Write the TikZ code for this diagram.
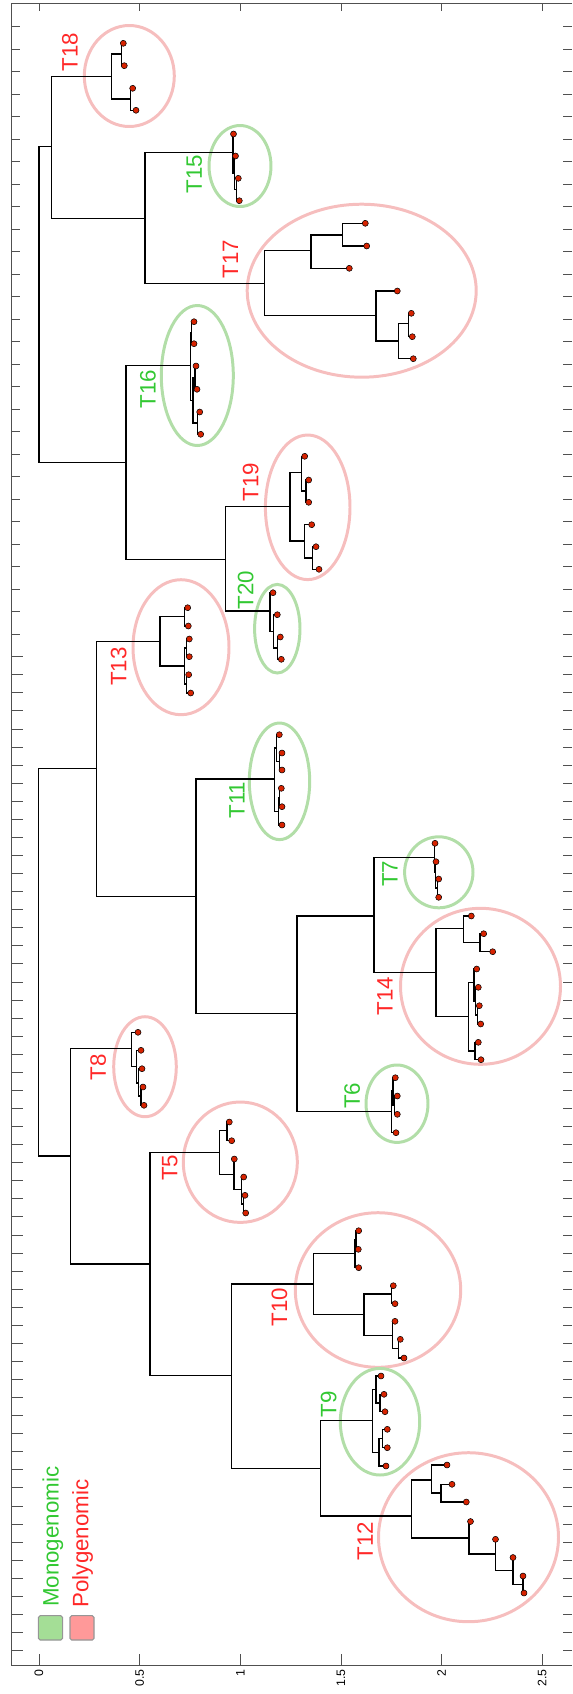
\documentclass[tikz,border=0pt]{standalone}
\usepackage{fontspec}
\setmainfont{Liberation Sans}
\definecolor{polyred}{RGB}{255,40,40}
\definecolor{monogreen}{RGB}{50,200,50}
\definecolor{polyring}{RGB}{246,190,190}
\definecolor{monoring}{RGB}{178,222,168}
\definecolor{leafred}{RGB}{215,35,0}
\definecolor{monobox}{RGB}{164,222,150}
\definecolor{polybox}{RGB}{255,153,153}
\definecolor{axisgray}{RGB}{80,80,80}
\definecolor{boxgray}{RGB}{150,150,150}
\begin{document}
\begin{tikzpicture}[x=0.02cm, y=-0.02cm,
  link/.style={line width=0.85pt, black},
  leaf/.style={circle, fill=leafred, draw=black, line width=0.3pt, inner sep=0pt, minimum size=0.12cm},
  axis/.style={line width=0.5pt, draw=axisgray},
  poly/.style={draw=polyring, line width=1.7pt},
  mono/.style={draw=monoring, line width=1.7pt},
  tlab/.style={rotate=90, inner sep=0pt, font=\fontsize{12.7}{14}\selectfont},
  ticklab/.style={rotate=90, anchor=east, inner sep=0pt, font=\fontsize{7}{8}\selectfont}]
\useasboundingbox (0,0) rectangle (572,1694);

\coordinate (l18a) at (123.3,43.3); \coordinate (l18b) at (124.3,65.7);
\coordinate (l18c) at (132.7,88.3); \coordinate (l18d) at (136,110.3);
\coordinate (l15a) at (233.5,134); \coordinate (l15b) at (235.5,156);
\coordinate (l15c) at (238.3,178.3); \coordinate (l15d) at (239.3,200.7);
\coordinate (l17a) at (365.3,223.3); \coordinate (l17b) at (366.7,246);
\coordinate (l17c) at (349.3,268.3); \coordinate (l17d) at (397.3,291);
\coordinate (l17e) at (411.3,313.3); \coordinate (l17f) at (412.3,336.7);
\coordinate (l17g) at (413.3,358.7);
\coordinate (l16a) at (194,321.7); \coordinate (l16b) at (194,343.7);
\coordinate (l16c) at (196,366); \coordinate (l16d) at (197,389.3);
\coordinate (l16e) at (199.7,412); \coordinate (l16f) at (200.7,434.3);
\coordinate (l19a) at (304.7,456.3); \coordinate (l19b) at (308.7,480);
\coordinate (l19c) at (308.7,502.3); \coordinate (l19d) at (311.7,524.7);
\coordinate (l19e) at (316,546.7); \coordinate (l19f) at (319,569.3);
\coordinate (l20a) at (273,592.7); \coordinate (l20b) at (277.3,614.7);
\coordinate (l20c) at (280.3,637); \coordinate (l20d) at (281.3,659.3);
\coordinate (l13a) at (187.7,607.7); \coordinate (l13b) at (188.3,626);
\coordinate (l13c) at (189.3,639); \coordinate (l13d) at (189.3,656.7);
\coordinate (l13e) at (188.7,674.7); \coordinate (l13f) at (190.7,693);
\coordinate (l11a) at (279.3,734.7); \coordinate (l11b) at (282,753);
\coordinate (l11c) at (282,770); \coordinate (l11d) at (281.3,788.3);
\coordinate (l11e) at (282,806.7); \coordinate (l11f) at (282,825);
\coordinate (l7a) at (435,843.3); \coordinate (l7b) at (436,861.7);
\coordinate (l7c) at (438.7,879); \coordinate (l7d) at (438.7,897.3);
\coordinate (l14a) at (471.3,916); \coordinate (l14b) at (483.7,933.7);
\coordinate (l14c) at (492.7,951.7); \coordinate (l14d) at (476.7,969);
\coordinate (l14e) at (478.3,987.3); \coordinate (l14f) at (479.3,1005.7);
\coordinate (l14g) at (480.7,1024); \coordinate (l14h) at (478.3,1042.3);
\coordinate (l14i) at (481,1059.7);
\coordinate (l6a) at (395.3,1077.7); \coordinate (l6b) at (397.3,1096);
\coordinate (l6c) at (397.3,1114.3); \coordinate (l6d) at (396,1132.7);
\coordinate (l8a) at (138,1032.3); \coordinate (l8b) at (141,1050.3);
\coordinate (l8c) at (142,1068.7); \coordinate (l8d) at (143,1087);
\coordinate (l8e) at (144,1105.3);
\coordinate (l5a) at (229.3,1122); \coordinate (l5b) at (231.7,1140.7);
\coordinate (l5c) at (234.3,1159); \coordinate (l5d) at (243.7,1177);
\coordinate (l5e) at (245,1195.3); \coordinate (l5f) at (245.7,1213);
\coordinate (l10a) at (358.7,1230.7); \coordinate (l10b) at (358.3,1249.3);
\coordinate (l10c) at (358.7,1267.7); \coordinate (l10d) at (393.3,1285.7);
\coordinate (l10e) at (395,1303.7); \coordinate (l10f) at (395,1321.3);
\coordinate (l10g) at (400.3,1339.3); \coordinate (l10h) at (404,1358);
\coordinate (l9a) at (381,1376); \coordinate (l9b) at (384,1394.3);
\coordinate (l9c) at (385,1411.7); \coordinate (l9d) at (387.3,1429.3);
\coordinate (l9e) at (387.3,1447.7); \coordinate (l9f) at (386,1466);
\coordinate (l12a) at (447,1465); \coordinate (l12b) at (452,1484.3);
\coordinate (l12c) at (466.3,1502); \coordinate (l12d) at (470.5,1521.5);
\coordinate (l12e) at (495.5,1539.3); \coordinate (l12f) at (513,1557.5);
\coordinate (l12g) at (523,1576); \coordinate (l12h) at (524,1593);

\coordinate (n18a) at (121.7,54); \coordinate (n18b) at (130.3,99);
\coordinate (n18) at (111.7,76.3);
\coordinate (n15b) at (236.5,189.5); \coordinate (n15a) at (234.5,172.8);
\coordinate (n15) at (233,152.3);
\coordinate (n17c) at (342.7,235); \coordinate (n17a) at (311,250.7);
\coordinate (n17e) at (408.3,323.3); \coordinate (n17d) at (398.7,341);
\coordinate (n17b) at (376,315.7); \coordinate (n17) at (264.3,283.7);
\coordinate (n16a) at (191.5,332.7); \coordinate (n16c) at (195,377.7);
\coordinate (n16d) at (197.5,423.2); \coordinate (n16b) at (193,400.4);
\coordinate (n16) at (190.7,365.7);
\coordinate (n19c) at (306,491.2); \coordinate (n19a) at (301.7,472.7);
\coordinate (n19d) at (312.3,558); \coordinate (n19b) at (304.3,541);
\coordinate (n19) at (290,506.7);
\coordinate (n20b) at (277.3,648.2); \coordinate (n20a) at (273.3,631.5);
\coordinate (n20) at (270,611);
\coordinate (na) at (145,218.3); \coordinate (nb) at (51.7,146.7);
\coordinate (nc) at (225.7,559.3); \coordinate (nd) at (126,462.7);
\coordinate (top) at (39,304.7);
\coordinate (n13a) at (184.3,616.7); \coordinate (n13c) at (186.7,647.8);
\coordinate (n13d) at (186.3,683.8); \coordinate (n13b) at (184.3,666);
\coordinate (n13) at (160,641.3);
\coordinate (n11c) at (279.3,761.5); \coordinate (n11a) at (276.7,748.1);
\coordinate (n11d) at (279.7,797.5); \coordinate (n11b) at (278.3,811.3);
\coordinate (n11) at (274.3,779);
\coordinate (n7b) at (437.5,888.2); \coordinate (n7a) at (435.5,872);
\coordinate (n7) at (434.3,857.7);
\coordinate (n14c) at (480,942.7); \coordinate (n14a) at (463.3,928.3);
\coordinate (n14g) at (477.7,1014.9); \coordinate (n14f) at (475.7,1001);
\coordinate (n14d) at (474,982.4); \coordinate (n14e) at (475,1051);
\coordinate (n14b) at (468.3,1016.7); \coordinate (n14) at (436,972.7);
\coordinate (n6b) at (394.3,1105.2); \coordinate (n6a) at (393,1090.7);
\coordinate (n6) at (391.7,1111.7);
\coordinate (ne) at (374,916); \coordinate (nf) at (297,1013.3);
\coordinate (ng) at (196,896.7); \coordinate (nh) at (96.7,768.3);
\coordinate (n8c) at (141,1096.2); \coordinate (n8b) at (138.3,1083);
\coordinate (n8a) at (136.7,1066.7); \coordinate (n8) at (131.7,1048.7);
\coordinate (n5a) at (227,1130.7); \coordinate (n5d) at (243.3,1204.2);
\coordinate (n5c) at (241.7,1189.6); \coordinate (n5b) at (234,1174.3);
\coordinate (n5) at (219.3,1152.3);
\coordinate (n10c) at (356,1240); \coordinate (n10a) at (355,1253.3);
\coordinate (n10d) at (391.7,1294); \coordinate (n10f) at (398.3,1348.7);
\coordinate (n10e) at (392.7,1335.3); \coordinate (n10b) at (364,1314.3);
\coordinate (n10) at (313.7,1284);
\coordinate (n9c) at (380,1403); \coordinate (n9a) at (376,1389.3);
\coordinate (n9d) at (382.7,1438.5); \coordinate (n9b) at (379,1452.3);
\coordinate (n9) at (372.7,1420.3);
\coordinate (n12c) at (441,1493.2); \coordinate (n12a) at (431.7,1480);
\coordinate (n12f) at (522.8,1584.5); \coordinate (n12e) at (513,1570.7);
\coordinate (n12d) at (495.4,1554); \coordinate (n12b) at (468.8,1538);
\coordinate (n12) at (411.7,1516);
\coordinate (ni) at (320.3,1468.3); \coordinate (nj) at (231.7,1375.7);
\coordinate (nk) at (150,1264); \coordinate (nl) at (70.7,1156);
\coordinate (bot) at (38.5,962);

\draw[poly] (129.3,76) ellipse [x radius=45, y radius=50.5];
\draw[mono] (240,166) ellipse [x radius=31, y radius=40.5];
\draw[poly] (361.7,290.7) ellipse [x radius=114.5, y radius=86.5];
\draw[mono] (197.3,375.5) ellipse [x radius=36, y radius=70];
\draw[poly] (307.7,507.3) ellipse [x radius=42.3, y radius=72.3];
\draw[mono] (277.3,628.7) ellipse [x radius=22.7, y radius=44.3];
\draw[poly] (181,647.2) ellipse [x radius=48, y radius=67.5];
\draw[mono] (279.5,781.3) ellipse [x radius=30.2, y radius=58.3];
\draw[mono] (438.8,872.3) ellipse [x radius=34.2, y radius=35.5];
\draw[poly] (480.5,986.3) ellipse [x radius=80, y radius=78];
\draw[mono] (397,1103.7) ellipse [x radius=31, y radius=38.7];
\draw[poly] (145,1066.7) ellipse [x radius=31.3, y radius=50];
\draw[poly] (240.3,1162.2) ellipse [x radius=57, y radius=60.2];
\draw[poly] (378,1290) ellipse [x radius=82.7, y radius=77.3];
\draw[mono] (380,1421.7) ellipse [x radius=39.7, y radius=53.3];
\draw[poly] (468.5,1537.2) ellipse [x radius=90, y radius=84.5];

\draw[axis] (572,3.3) -- (11.7,3.3) -- (11.7,1665) -- (572,1665);
\foreach \k in {0,...,27} {
  \draw[axis] (11.7,26.7+22.5*\k) -- ++(8.3,0);
  \draw[axis] (572,26.7+22.5*\k) -- ++(-9.5,0);
}
\foreach \k in {0,...,55} {
  \draw[axis] (11.7,656.7+18.07*\k) -- ++(11.6,0);
  \draw[axis] (572,656.7+18.07*\k) -- ++(-9.5,0);
}
\foreach \v [count=\i] in {0,0.5,1,1.5,2,2.5} {
  \draw[axis] (39+201.3*\v,3.3) -- ++(0,7.4);
  \draw[axis] (39+201.3*\v,1665) -- ++(0,-10.7);
  \node[ticklab] (tick\i) at (39+201.3*\v,1669) {\v};
}

\draw[link] (l18a) -| (n18a) |- (l18b);
\draw[link] (l18c) -| (n18b) |- (l18d);
\draw[link] (n18a) -| (n18) |- (n18b);
\draw[link] (l15c) -| (n15b) |- (l15d);
\draw[link] (l15b) -| (n15a) |- (n15b);
\draw[link] (l15a) -| (n15) |- (n15a);
\draw[link] (l17a) -| (n17c) |- (l17b);
\draw[link] (n17c) -| (n17a) |- (l17c);
\draw[link] (l17e) -| (n17e) |- (l17f);
\draw[link] (n17e) -| (n17d) |- (l17g);
\draw[link] (l17d) -| (n17b) |- (n17d);
\draw[link] (n17a) -| (n17) |- (n17b);
\draw[link] (l16a) -| (n16a) |- (l16b);
\draw[link] (l16c) -| (n16c) |- (l16d);
\draw[link] (l16e) -| (n16d) |- (l16f);
\draw[link] (n16c) -| (n16b) |- (n16d);
\draw[link] (n16a) -| (n16) |- (n16b);
\draw[link] (l19b) -| (n19c) |- (l19c);
\draw[link] (l19a) -| (n19a) |- (n19c);
\draw[link] (l19e) -| (n19d) |- (l19f);
\draw[link] (l19d) -| (n19b) |- (n19d);
\draw[link] (n19a) -| (n19) |- (n19b);
\draw[link] (l20c) -| (n20b) |- (l20d);
\draw[link] (l20b) -| (n20a) |- (n20b);
\draw[link] (l20a) -| (n20) |- (n20a);
\draw[link] (n15) -| (na) |- (n17);
\draw[link] (n18) -| (nb) |- (na);
\draw[link] (n19) -| (nc) |- (n20);
\draw[link] (n16) -| (nd) |- (nc);
\draw[link] (nb) -| (top) |- (nd);
\draw[link] (l13a) -| (n13a) |- (l13b);
\draw[link] (l13c) -| (n13c) |- (l13d);
\draw[link] (l13e) -| (n13d) |- (l13f);
\draw[link] (n13c) -| (n13b) |- (n13d);
\draw[link] (n13a) -| (n13) |- (n13b);
\draw[link] (l11b) -| (n11c) |- (l11c);
\draw[link] (l11a) -| (n11a) |- (n11c);
\draw[link] (l11d) -| (n11d) |- (l11e);
\draw[link] (n11d) -| (n11b) |- (l11f);
\draw[link] (n11a) -| (n11) |- (n11b);
\draw[link] (l7c) -| (n7b) |- (l7d);
\draw[link] (l7b) -| (n7a) |- (n7b);
\draw[link] (l7a) -| (n7) |- (n7a);
\draw[link] (l14b) -| (n14c) |- (l14c);
\draw[link] (l14a) -| (n14a) |- (n14c);
\draw[link] (l14f) -| (n14g) |- (l14g);
\draw[link] (l14e) -| (n14f) |- (n14g);
\draw[link] (l14d) -| (n14d) |- (n14f);
\draw[link] (l14h) -| (n14e) |- (l14i);
\draw[link] (n14d) -| (n14b) |- (n14e);
\draw[link] (n14a) -| (n14) |- (n14b);
\draw[link] (l6b) -| (n6b) |- (l6c);
\draw[link] (l6a) -| (n6a) |- (n6b);
\draw[link] (n6a) -| (n6) |- (l6d);
\draw[link] (n7) -| (ne) |- (n14);
\draw[link] (ne) -| (nf) |- (n6);
\draw[link] (n11) -| (ng) |- (nf);
\draw[link] (n13) -| (nh) |- (ng);
\draw[link] (l8d) -| (n8c) |- (l8e);
\draw[link] (l8c) -| (n8b) |- (n8c);
\draw[link] (l8b) -| (n8a) |- (n8b);
\draw[link] (l8a) -| (n8) |- (n8a);
\draw[link] (l5a) -| (n5a) |- (l5b);
\draw[link] (l5e) -| (n5d) |- (l5f);
\draw[link] (l5d) -| (n5c) |- (n5d);
\draw[link] (l5c) -| (n5b) |- (n5c);
\draw[link] (n5a) -| (n5) |- (n5b);
\draw[link] (l10a) -| (n10c) |- (l10b);
\draw[link] (n10c) -| (n10a) |- (l10c);
\draw[link] (l10d) -| (n10d) |- (l10e);
\draw[link] (l10g) -| (n10f) |- (l10h);
\draw[link] (l10f) -| (n10e) |- (n10f);
\draw[link] (n10d) -| (n10b) |- (n10e);
\draw[link] (n10a) -| (n10) |- (n10b);
\draw[link] (l9b) -| (n9c) |- (l9c);
\draw[link] (l9a) -| (n9a) |- (n9c);
\draw[link] (l9d) -| (n9d) |- (l9e);
\draw[link] (n9d) -| (n9b) |- (l9f);
\draw[link] (n9a) -| (n9) |- (n9b);
\draw[link] (l12b) -| (n12c) |- (l12c);
\draw[link] (l12a) -| (n12a) |- (n12c);
\draw[link] (l12g) -| (n12f) |- (l12h);
\draw[link] (l12f) -| (n12e) |- (n12f);
\draw[link] (l12e) -| (n12d) |- (n12e);
\draw[link] (l12d) -| (n12b) |- (n12d);
\draw[link] (n12a) -| (n12) |- (n12b);
\draw[link] (n9) -| (ni) |- (n12);
\draw[link] (n10) -| (nj) |- (ni);
\draw[link] (n5) -| (nk) |- (nj);
\draw[link] (n8) -| (nl) |- (nk);
\draw[link] (nh) -| (bot) |- (nl);

\foreach \l in {l18a,l18b,l18c,l18d,l15a,l15b,l15c,l15d,l17a,l17b,l17c,l17d,l17e,l17f,l17g,
  l16a,l16b,l16c,l16d,l16e,l16f,l19a,l19b,l19c,l19d,l19e,l19f,l20a,l20b,l20c,l20d,
  l13a,l13b,l13c,l13d,l13e,l13f,l11a,l11b,l11c,l11d,l11e,l11f,l7a,l7b,l7c,l7d,
  l14a,l14b,l14c,l14d,l14e,l14f,l14g,l14h,l14i,l6a,l6b,l6c,l6d,l8a,l8b,l8c,l8d,l8e,
  l5a,l5b,l5c,l5d,l5e,l5f,l10a,l10b,l10c,l10d,l10e,l10f,l10g,l10h,
  l9a,l9b,l9c,l9d,l9e,l9f,l12a,l12b,l12c,l12d,l12e,l12f,l12g,l12h}
  \node[leaf] at (\l) {};

\node[tlab, text=polyred] (lab18) at (70,52) {T18};
\node[tlab, text=monogreen] (lab15) at (194.3,174) {T15};
\node[tlab, text=polyred] (lab17) at (230.5,259) {T17};
\node[tlab, text=monogreen] (lab16) at (148,389) {T16};
\node[tlab, text=polyred] (lab19) at (250.8,482.2) {T19};
\node[tlab, text=monogreen] (lab20) at (245.7,590.3) {T20};
\node[tlab, text=polyred] (lab13) at (118.8,666.7) {T13};
\node[tlab, text=monogreen] (lab11) at (237,800) {T11};
\node[tlab, text=monogreen] (lab7) at (390,873.7) {T7};
\node[tlab, text=polyred] (lab14) at (385,996.2) {T14};
\node[tlab, text=monogreen] (lab6) at (352.3,1095.8) {T6};
\node[tlab, text=polyred] (lab8) at (98.3,1067.2) {T8};
\node[tlab, text=polyred] (lab5) at (169.7,1167.8) {T5};
\node[tlab, text=polyred] (lab10) at (279.5,1307.2) {T10};
\node[tlab, text=monogreen] (lab9) at (328.7,1404.5) {T9};
\node[tlab, text=polyred] (lab12) at (365,1541.3) {T12};

\draw[fill=monobox, draw=boxgray, line width=0.6pt, rounded corners=1pt] (38.3,1615.7) rectangle (62.7,1640);
\draw[fill=polybox, draw=boxgray, line width=0.6pt, rounded corners=1pt] (70,1615.7) rectangle (94,1640);
\node[tlab, anchor=west, text=monogreen] (legmono) at (52.8,1607.3) {Monogenomic};
\node[tlab, anchor=west, text=polyred] (legpoly) at (82.5,1607.7) {Polygenomic};
\end{tikzpicture}
\end{document}
